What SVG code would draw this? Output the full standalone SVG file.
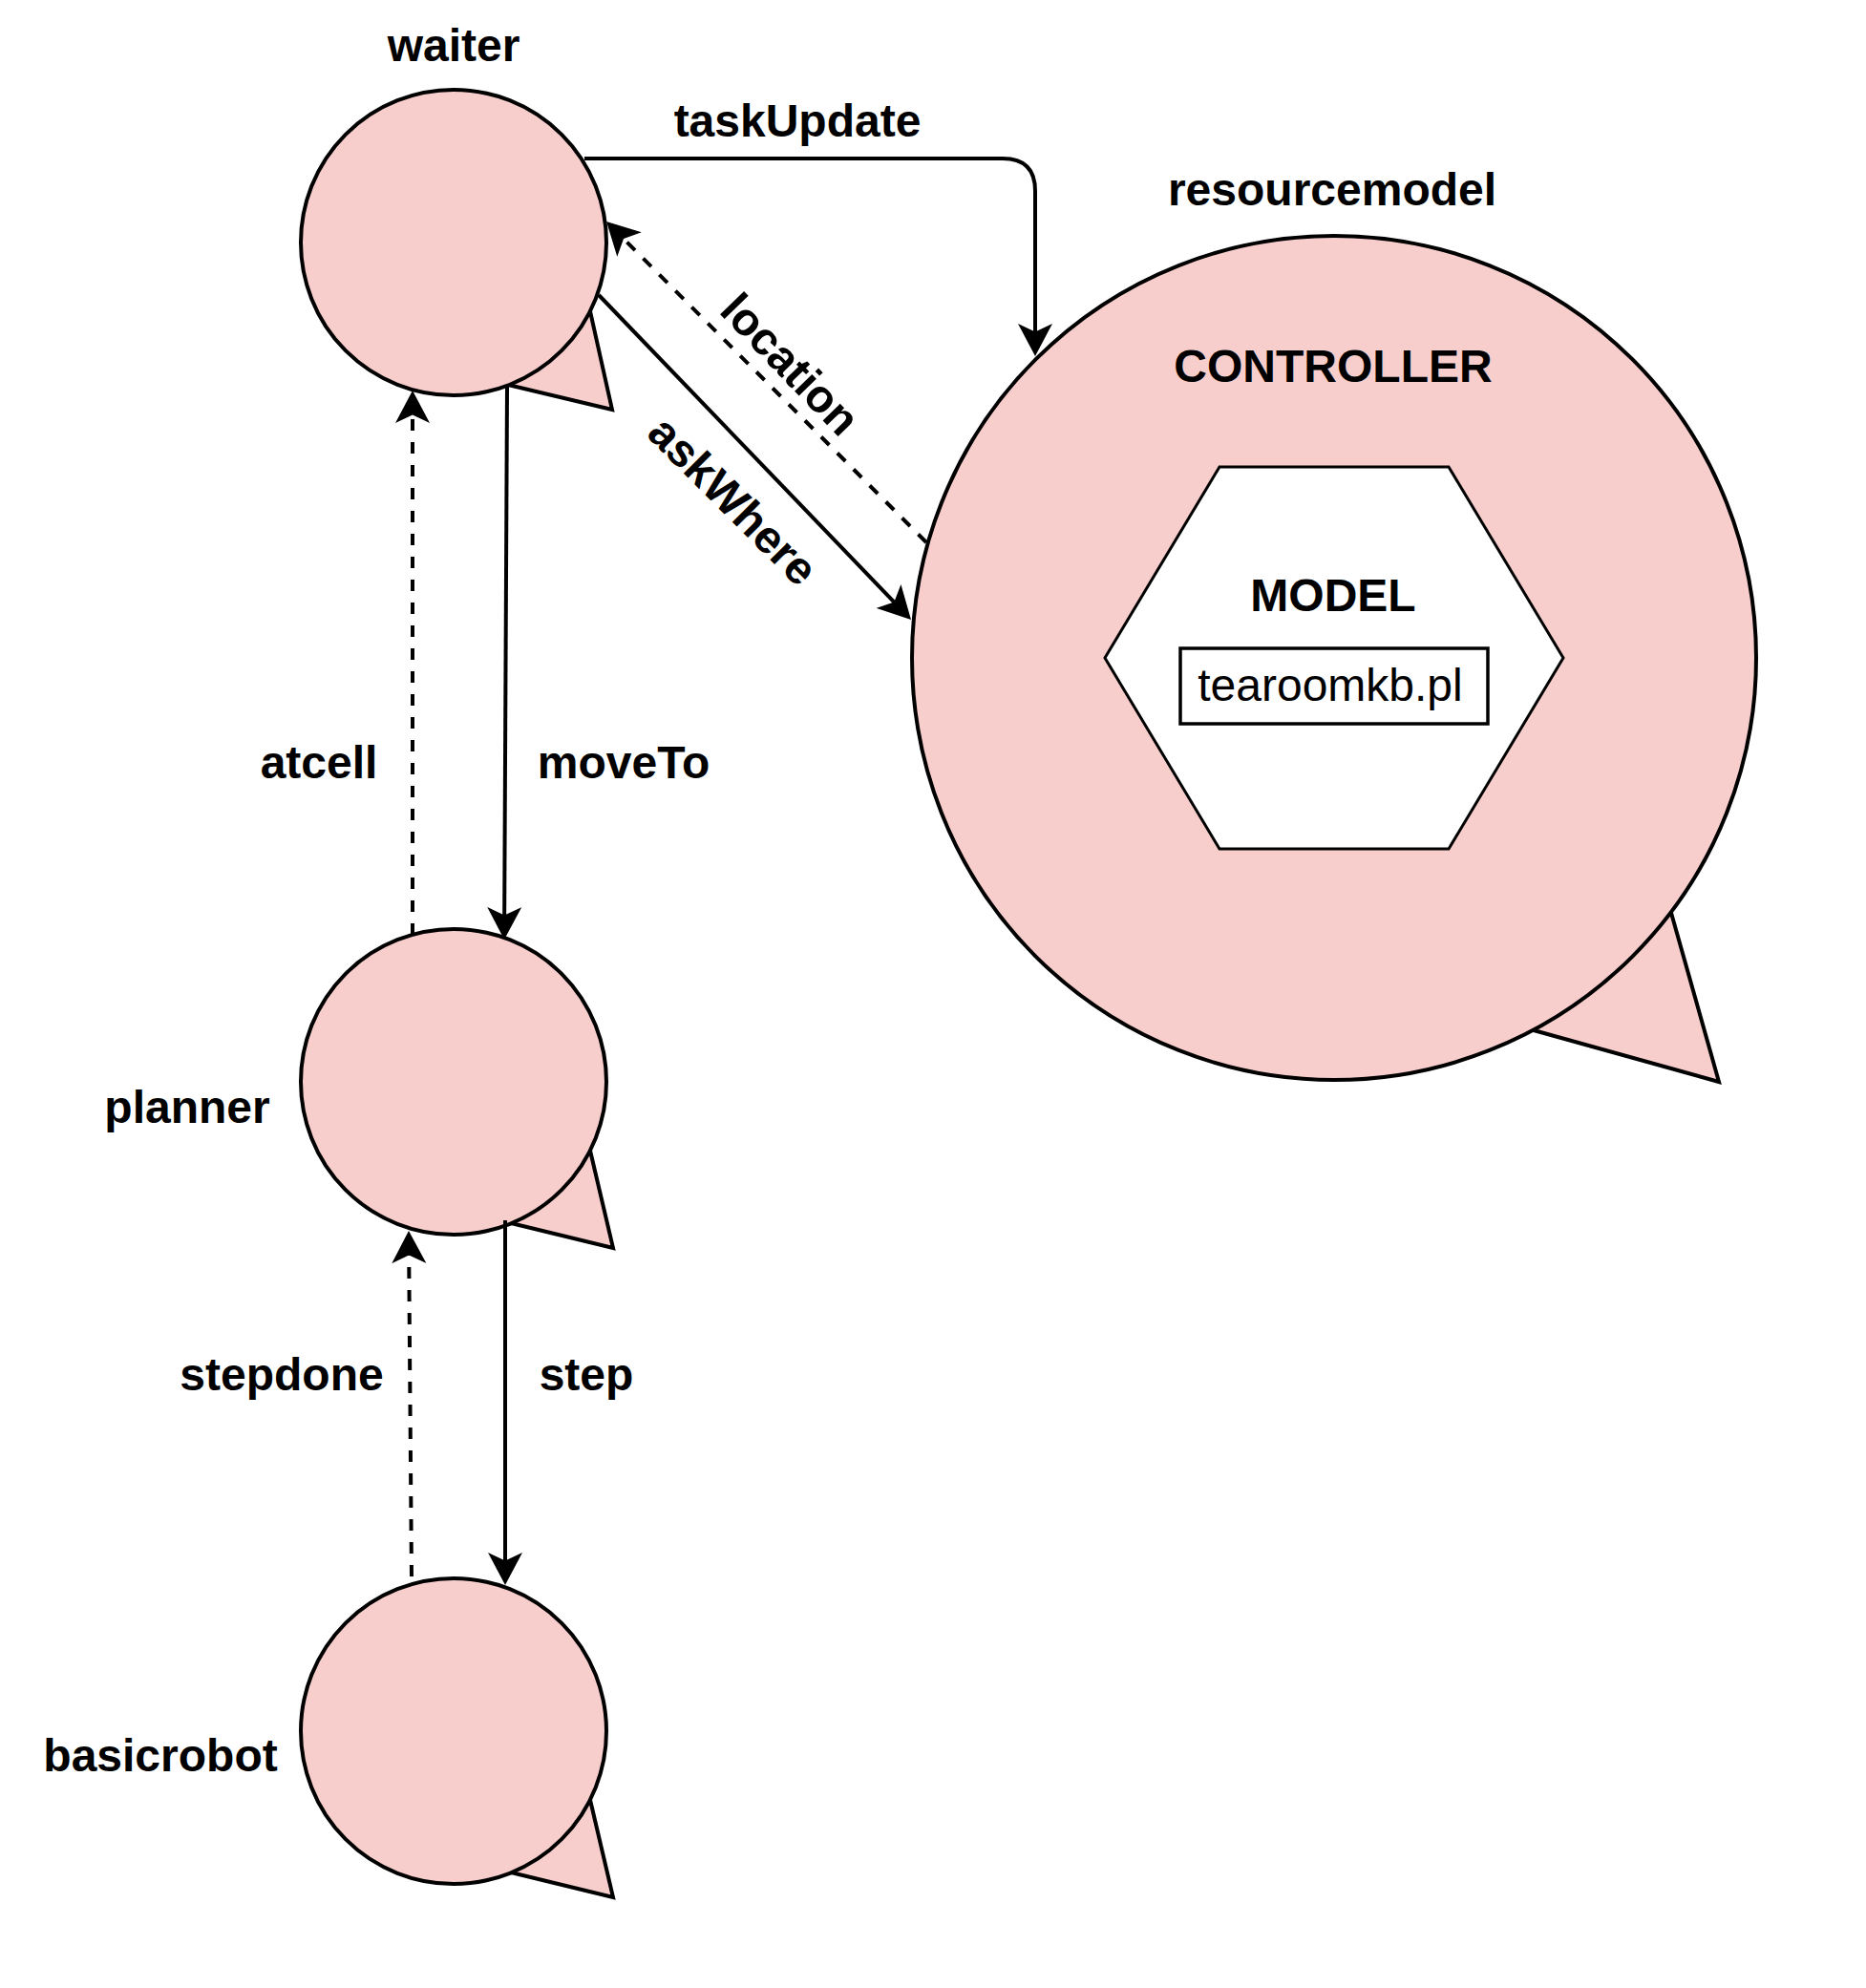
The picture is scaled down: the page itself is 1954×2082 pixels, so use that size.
<svg xmlns="http://www.w3.org/2000/svg" width="1954" height="2082" viewBox="0 0 1954 2082">
<style>
.bubble{fill:#f8cecc;stroke:#000;stroke-width:4;stroke-linejoin:miter}
.lbl{font-family:"Liberation Sans",Arial,sans-serif;font-size:48px;font-weight:bold;fill:#000;text-anchor:middle}
.reg{font-family:"Liberation Sans",Arial,sans-serif;font-size:48px;fill:#000;text-anchor:middle}
.edge{fill:none;stroke:#000;stroke-width:4}
.dash{stroke-dasharray:12 12}
</style>
<defs>
<marker id="arr" markerUnits="userSpaceOnUse" viewBox="0 0 34 36" markerWidth="34" markerHeight="36" refX="22" refY="18" orient="auto">
<path d="M34,18 L0,0 L8.5,18 L0,36 Z" fill="#000"/>
</marker>
</defs>
<rect width="1954" height="2082" fill="#fff"/>

<g id="resourcemodel">
<polygon class="bubble" points="1606,1079 1800,1133 1750,956"/>
<circle class="bubble" cx="1397" cy="689" r="442"/>
<text class="lbl" x="1395" y="215">resourcemodel</text>
<text class="lbl" x="1396" y="400">CONTROLLER</text>
<g id="model">
<polygon points="1277,489 1517,489 1637,689 1517,889 1277,889 1157,689" fill="#fff" stroke="#000" stroke-width="3"/>
<text class="lbl" x="1396" y="640">MODEL</text>
<rect x="1236" y="679" width="322" height="79" fill="#fff" stroke="#000" stroke-width="3.5"/>
<text class="reg" x="1393" y="734">tearoomkb.pl</text>
</g>
</g>

<g id="waiter">
<polygon class="bubble" points="532,403 641,429 618,326"/>
<circle class="bubble" cx="475" cy="254" r="160"/>
<text class="lbl" x="475" y="64">waiter</text>
</g>

<g id="planner">
<polygon class="bubble" points="531,1280 642,1307 618,1205"/>
<circle class="bubble" cx="475" cy="1133" r="160"/>
<text class="lbl" x="196" y="1176">planner</text>
</g>

<g id="basicrobot">
<polygon class="bubble" points="531,1960 642,1987 618,1885"/>
<circle class="bubble" cx="475" cy="1813" r="160"/>
<text class="lbl" x="168" y="1855">basicrobot</text>
</g>

<g id="connectors">
<path class="edge" d="M612,166 H1050 Q1084,166 1084,200 V361" marker-end="url(#arr)"/>
<text class="lbl" x="835" y="143">taskUpdate</text>
<path class="edge dash" d="M970,568 L643.5,240.5" marker-end="url(#arr)"/>
<text class="lbl" transform="translate(828,381) rotate(46)" x="0" y="17">location</text>
<path class="edge" d="M627,309 L945.7,640.3" marker-end="url(#arr)"/>
<text class="lbl" transform="translate(768,524) rotate(45)" x="0" y="17">askWhere</text>
<path class="edge" d="M531,405 L528.1,972" marker-end="url(#arr)"/>
<text class="lbl" x="653" y="815">moveTo</text>
<path class="edge dash" d="M432,979 L432,421" marker-end="url(#arr)"/>
<text class="lbl" x="334" y="815">atcell</text>
<path class="edge" d="M529,1278 L529,1648" marker-end="url(#arr)"/>
<text class="lbl" x="614" y="1456">step</text>
<path class="edge dash" d="M431,1651 L428.1,1301" marker-end="url(#arr)"/>
<text class="lbl" x="295" y="1456">stepdone</text>
</g>
</svg>
